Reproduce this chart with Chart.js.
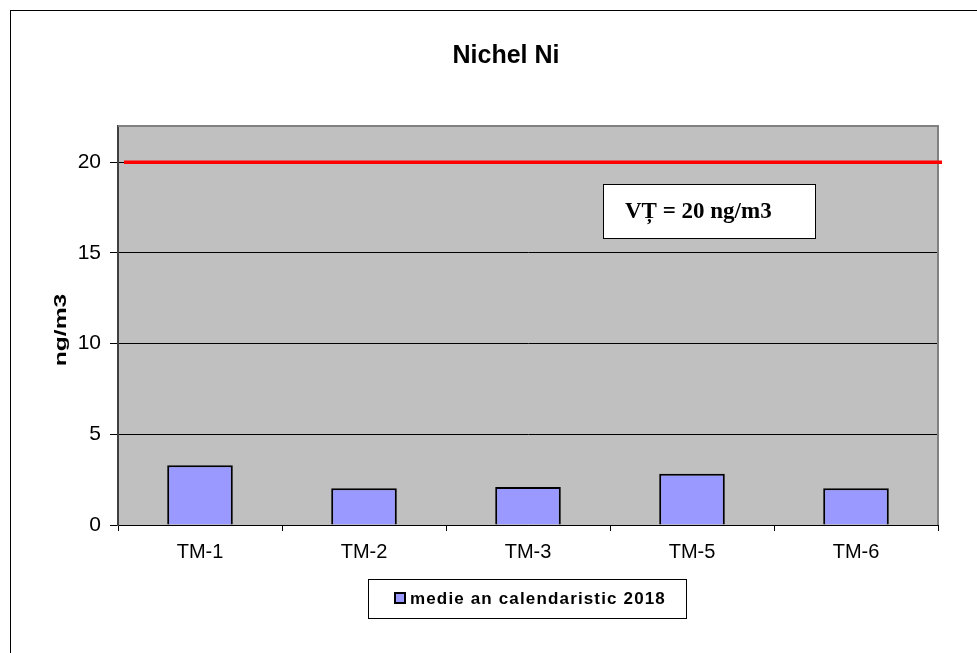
<!DOCTYPE html>
<html>
<head>
<meta charset="utf-8">
<script src="https://cdn.jsdelivr.net/npm/chart.js@4"></script>
<style>
  html, body { margin: 0; padding: 0; background: #fff; }
  #wrap { width: 977px; height: 653px; }
</style>
</head>
<body>
<div id="wrap"><canvas id="grafic" width="977" height="653"></canvas></div>
<script>
'use strict';

// ── Date ─────────────────────────────────────────
const statii = ['TM-1', 'TM-2', 'TM-3', 'TM-5', 'TM-6'];
const medii2018 = [3.3, 2.03, 2.1, 2.82, 2.03];
const eticheta = 'medie an calendaristic 2018';
const valoareTinta = 20;
const textTinta = 'VȚ = 20 ng/m3';
const titlu = 'Nichel Ni';
const unitate = 'ng/m3';

// fundal gri, chenare, linia rosie, caseta VT, titlu, legenda
const decor = {
    id: 'decor',
    beforeDraw(chart) {
        const { ctx, chartArea: a } = chart;
        ctx.save();
        ctx.fillStyle = '#c0c0c0';
        ctx.fillRect(a.left, a.top, a.right - a.left, a.bottom - a.top);
        ctx.restore();
    },
    afterDraw(chart) {
        const { ctx, chartArea: a } = chart;
        const y = chart.scales.y;
        ctx.save();

        // chenar exterior
        ctx.strokeStyle = '#000';
        ctx.lineWidth = 1;
        ctx.strokeRect(10.5, 10.5, 1000, 700);

        // chenar sus / dreapta
        ctx.strokeStyle = '#808080';
        ctx.lineWidth = 2;
        ctx.beginPath();
        ctx.moveTo(a.left, a.top);
        ctx.lineTo(a.right, a.top);
        ctx.lineTo(a.right, a.bottom);
        ctx.stroke();

        // valoare tinta
        const yT = y.getPixelForValue(valoareTinta);
        ctx.strokeStyle = '#ff0000';
        ctx.lineWidth = 3.5;
        ctx.beginPath();
        ctx.moveTo(a.left + 6, yT);
        ctx.lineTo(a.right + 4, yT);
        ctx.stroke();

        // caseta VT
        ctx.fillStyle = '#fff';
        ctx.fillRect(603, 184, 212, 54);
        ctx.strokeStyle = '#000';
        ctx.lineWidth = 1;
        ctx.strokeRect(603.5, 184.5, 212, 54);
        ctx.fillStyle = '#000';
        ctx.font = 'bold 23px "Liberation Serif"';
        ctx.textBaseline = 'middle';
        ctx.textAlign = 'left';
        ctx.fillText(textTinta, 625, 212);

        // titlu
        ctx.font = 'bold 25px "Liberation Sans"';
        ctx.textAlign = 'center';
        ctx.fillText(titlu, 506, 56);

        // titlu axa Y (intins pe verticala, ca in original)
        ctx.save();
        ctx.translate(61, 330);
        ctx.rotate(-Math.PI / 2);
        ctx.scale(1.45, 1);
        ctx.font = 'bold 17px "Liberation Sans"';
        ctx.fillText(unitate, 0, 0);
        ctx.restore();

        // legenda
        ctx.fillStyle = '#fff';
        ctx.fillRect(368, 579, 318, 39);
        ctx.strokeStyle = '#000';
        ctx.strokeRect(368.5, 579.5, 318, 39);
        const ds = chart.data.datasets[0];
        ctx.fillStyle = ds.backgroundColor;
        ctx.fillRect(395, 593, 10, 10);
        ctx.lineWidth = 2;
        ctx.strokeRect(395, 593, 10, 10);
        ctx.fillStyle = '#000';
        ctx.textAlign = 'left';
        ctx.font = 'bold 17px "Liberation Sans"';
        ctx.letterSpacing = '1.15px';
        ctx.fillText(ds.label, 410, 599);
        ctx.restore();
    }
};

new Chart(document.getElementById('grafic').getContext('2d'), {
    type: 'bar',
    data: {
        labels: statii,
        datasets: [{
            label: eticheta,
            data: medii2018,
            backgroundColor: '#9999ff',
            borderColor: '#000',
            borderWidth: 2,
            categoryPercentage: 1,
            barPercentage: 0.4
        }]
    },
    options: {
        responsive: false,
        animation: false,
        layout: { padding: { left: 0, right: 39, top: 126, bottom: 88 } },
        plugins: {
            legend: { display: false },
            title: { display: false },
            tooltip: { enabled: false }
        },
        scales: {
            x: {
                afterFit: s => { s.height = 40; },
                grid: {
                    offset: true,
                    drawOnChartArea: false,
                    drawTicks: true,
                    tickLength: 6,
                    color: '#000'
                },
                border: { color: '#000', width: 1 },
                ticks: {
                    color: '#000',
                    padding: 9,
                    font: { family: 'Liberation Sans', size: 20 }
                }
            },
            y: {
                min: 0,
                max: 22,
                afterFit: s => { s.width = 118; },
                grid: {
                    color: '#000',
                    lineWidth: 1,
                    drawTicks: true,
                    tickLength: 8,
                    tickColor: '#000'
                },
                border: { color: '#404040', width: 2 },
                ticks: {
                    stepSize: 5,
                    includeBounds: false,
                    color: '#000',
                    padding: 9,
                    font: { family: 'Liberation Sans', size: 21 }
                }
            }
        }
    },
    plugins: [decor]
});
</script>
</body>
</html>
